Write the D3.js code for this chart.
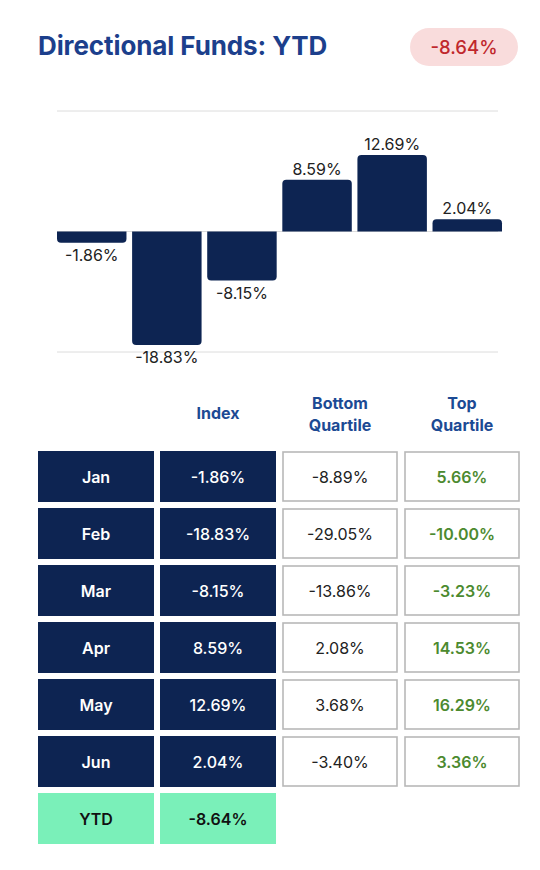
<!DOCTYPE html>
<html>
<head>
<meta charset="utf-8">
<script src="https://cdn.jsdelivr.net/npm/d3@7/dist/d3.min.js"></script>
<style>
  html, body { margin: 0; padding: 0; background: #ffffff; }
  svg { display: block; font-family: Inter, "Noto Sans", sans-serif; }
</style>
</head>
<body>
<svg id="chart" width="540" height="870"></svg>
<script>
// ---- data ----
const months = ["Jan", "Feb", "Mar", "Apr", "May", "Jun"];
const indexValues = [-1.86, -18.83, -8.15, 8.59, 12.69, 2.04];
const bottomQuartile = [-8.89, -29.05, -13.86, 2.08, 3.68, -3.40];
const topQuartile = [5.66, -10.00, -3.23, 14.53, 16.29, 3.36];
const ytdLabel = "YTD";
const ytdValue = -8.64;
const titleText = "Directional Funds: YTD";
const headerLabels = [[""], ["Index"], ["Bottom", "Quartile"], ["Top", "Quartile"]];
const yTicks = [-20, 0, 20];

const fmt = v => (v < 0 ? "-" : "") + Math.abs(v).toFixed(2) + "%";

const svg = d3.select("#chart");

// ---- title & badge ----
svg.append("text")
  .attr("x", 38).attr("y", 55)
  .attr("font-size", 26).attr("font-weight", 700)
  .attr("letter-spacing", -0.1)
  .attr("fill", "#1c3f8c")
  .text(titleText);

svg.append("rect")
  .attr("x", 410).attr("y", 28).attr("width", 108).attr("height", 38)
  .attr("rx", 19).attr("fill", "#f9dcdc");
svg.append("text")
  .attr("x", 464).attr("y", 54)
  .attr("text-anchor", "middle")
  .attr("font-size", 18.5).attr("font-weight", 500)
  .attr("fill", "#c0282d")
  .text(fmt(ytdValue));

// ---- bar chart ----
const x = d3.scaleBand().domain(months).range([57, 502]).paddingInner(0.075).paddingOuter(0);
const y = d3.scaleLinear().domain([-20, 20]).range([352, 111]);

const grid = svg.append("g");
grid.selectAll("line").data(yTicks).join("line")
  .attr("x1", 57).attr("x2", 498)
  .attr("y1", d => y(d)).attr("y2", d => y(d))
  .attr("stroke", "#dcdcdc").attr("stroke-width", 1);

function barPath(d, i) {
  const x0 = x(months[i]), w = x.bandwidth();
  const y0 = y(0), y1 = y(d);
  const r = Math.min(4, Math.abs(y1 - y0));
  if (d >= 0) {
    return `M${x0},${y0} V${y1 + r} Q${x0},${y1} ${x0 + r},${y1} H${x0 + w - r} Q${x0 + w},${y1} ${x0 + w},${y1 + r} V${y0} Z`;
  } else {
    return `M${x0},${y0} V${y1 - r} Q${x0},${y1} ${x0 + r},${y1} H${x0 + w - r} Q${x0 + w},${y1} ${x0 + w},${y1 - r} V${y0} Z`;
  }
}

svg.append("g").selectAll("path").data(indexValues).join("path")
  .attr("d", (d, i) => barPath(d, i))
  .attr("fill", "#0d2452");

svg.append("g").selectAll("text").data(indexValues).join("text")
  .attr("x", (d, i) => x(months[i]) + x.bandwidth() / 2)
  .attr("y", d => d >= 0 ? y(d) - 5 : y(d) + 18)
  .attr("text-anchor", "middle")
  .attr("font-size", 16).attr("font-weight", 400)
  .attr("fill", "#222")
  .text(d => fmt(d));

// ---- table ----
const colX = [38, 160, 282, 404];
const colW = 116;
const rowY0 = 451, rowPitch = 57, rowH = 51;

const hdr = svg.append("g");
headerLabels.forEach((lines, c) => {
  const cx = colX[c] + colW / 2;
  const t = hdr.append("text")
    .attr("text-anchor", "middle")
    .attr("font-size", 16).attr("font-weight", 700)
    .attr("fill", "#1c4a94");
  if (lines.length === 1) {
    t.append("tspan").attr("x", cx).attr("y", 419).text(lines[0]);
  } else {
    t.append("tspan").attr("x", cx).attr("y", 409).text(lines[0]);
    t.append("tspan").attr("x", cx).attr("y", 431).text(lines[1]);
  }
});

const rows = months.map((m, i) => ({
  cells: [
    { text: m, fill: "#0d2452", stroke: "none", color: "#ffffff", weight: 600 },
    { text: fmt(indexValues[i]), fill: "#0d2452", stroke: "none", color: "#ffffff", weight: 500 },
    { text: fmt(bottomQuartile[i]), fill: "#ffffff", stroke: "#b8b8b8", color: "#222222", weight: 400 },
    { text: fmt(topQuartile[i]), fill: "#ffffff", stroke: "#b8b8b8", color: "#4c8a2f", weight: 600 }
  ]
}));
rows.push({
  cells: [
    { text: ytdLabel, fill: "#7af0b9", stroke: "none", color: "#111111", weight: 600 },
    { text: fmt(ytdValue), fill: "#7af0b9", stroke: "none", color: "#111111", weight: 600 }
  ]
});

const tbl = svg.append("g");
rows.forEach((row, r) => {
  const ry = rowY0 + r * rowPitch;
  row.cells.forEach((cell, c) => {
    const isStroke = cell.stroke !== "none";
    tbl.append("rect")
      .attr("x", colX[c] + (isStroke ? 1 : 0))
      .attr("y", ry + (isStroke ? 1 : 0))
      .attr("width", colW - (isStroke ? 2 : 0))
      .attr("height", rowH - (isStroke ? 2 : 0))
      .attr("fill", cell.fill)
      .attr("stroke", cell.stroke)
      .attr("stroke-width", isStroke ? 1.6 : 0);
    tbl.append("text")
      .attr("x", colX[c] + colW / 2)
      .attr("y", ry + rowH / 2 + 6)
      .attr("text-anchor", "middle")
      .attr("font-size", 16)
      .attr("font-weight", cell.weight)
      .attr("fill", cell.color)
      .text(cell.text);
  });
});
</script>
</body>
</html>
